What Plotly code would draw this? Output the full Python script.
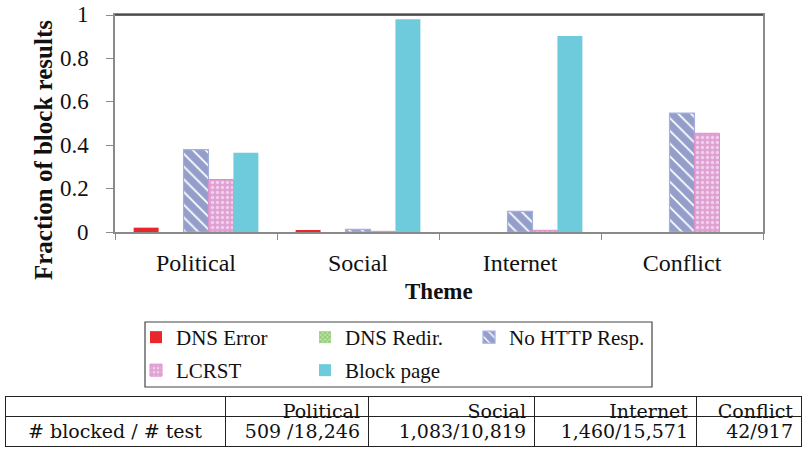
import plotly.graph_objects as go

# Themes on the category axis
themes = ["Political", "Social", "Internet", "Conflict"]

# Fraction of block results per theme, one list per result type
dns_error = [0.02, 0.006, 0.0, 0.0]
dns_redir = [0.0, 0.0, 0.0, 0.0]
no_http_resp = [0.38, 0.012, 0.095, 0.548]
lcrst = [0.242, 0.003, 0.008, 0.455]
block_page = [0.365, 0.98, 0.903, 0.0]

# Value-axis ticks
y_ticks = [0, 0.2, 0.4, 0.6, 0.8, 1]
y_tick_labels = ["0", "0.2", "0.4", "0.6", "0.8", "1"]

# Summary table below the chart
table_header = ["", "Political", "Social", "Internet", "Conflict"]
table_row = ["# blocked / # test", "509 /18,246", "1,083/10,819", "1,460/15,571", "42/917"]

W, H = 802, 452
SERIF = "Liberation Serif"
AXIS_GREY = "#8a8a8a"


def px_x(x):
    return x / W


def px_y(y):
    return 1 - y / H


fig = go.Figure()

series = [
    dict(name="DNS Error", y=dns_error, legend="legend",
         marker=dict(color="#e8262b", line=dict(width=0))),
    dict(name="DNS Redir.", y=dns_redir, legend="legend",
         marker=dict(color="#7cc257",
                     pattern=dict(shape="x", fgcolor="#5aa838", bgcolor="#bfe3a8", size=4, solidity=0.5),
                     line=dict(width=0))),
    dict(name="No HTTP Resp.", y=no_http_resp, legend="legend3",
         marker=dict(color="#2a3d96",
                     pattern=dict(shape="\\", fgcolor="#2a3d96", bgcolor="#ffffff", size=9, solidity=0.8),
                     line=dict(color="#a4b0e0", width=1.2))),
    dict(name="LCRST", y=lcrst, legend="legend2",
         marker=dict(color="#dc98cf",
                     pattern=dict(shape=".", fgcolor="#ffffff", bgcolor="#e0a0d4", size=5, solidity=0.35),
                     line=dict(color="#d890c8", width=1))),
    dict(name="Block page", y=block_page, legend="legend2",
         marker=dict(color="#6ecbdc", line=dict(width=0))),
]

for s in series:
    fig.add_trace(go.Bar(x=themes, y=s["y"], name=s["name"], legend=s["legend"],
                         marker=s["marker"], xaxis="x", yaxis="y"))

# Summary table
fig.add_trace(go.Table(
    domain=dict(x=[px_x(5), px_x(801)], y=[px_y(451), px_y(396)]),
    columnwidth=[220, 143, 166, 162, 105],
    header=dict(values=table_header, align=["center", "right", "right", "right", "right"],
                fill_color="white", line=dict(color="#222222", width=1),
                font=dict(family="DejaVu Serif", size=19, color="#111111"), height=20),
    cells=dict(values=[[v] for v in table_row], align=["center", "right", "right", "right", "right"],
               fill_color="white", line=dict(color="#222222", width=1),
               font=dict(family="DejaVu Serif", size=19, color="#111111"), height=30),
))

legend_common = dict(orientation="h", xanchor="left", yanchor="top",
                     font=dict(family=SERIF, size=21, color="#111111"),
                     bgcolor="rgba(0,0,0,0)", borderwidth=0,
                     traceorder="normal", itemclick=False, itemdoubleclick=False)

# Value-axis labels, placed on the y scale and right-aligned left of the tick marks
y_label_annotations = [
    dict(text=lab, x=px_x(91), y=val, xref="paper", yref="y",
         xanchor="right", yanchor="middle", showarrow=False,
         font=dict(family=SERIF, size=23, color="#111111"))
    for val, lab in zip(y_ticks, y_tick_labels)
]

fig.update_layout(
    width=W, height=H,
    margin=dict(l=0, r=0, t=0, b=0),
    paper_bgcolor="white", plot_bgcolor="white",
    font=dict(family=SERIF, size=22, color="#111111"),
    barmode="group", bargap=0.23, bargroupgap=0,
    showlegend=True,
    legend=dict(x=px_x(136), y=px_y(317), entrywidth=124, **legend_common),
    legend2=dict(x=px_x(136), y=px_y(350), entrywidth=124, **legend_common),
    legend3=dict(x=px_x(469), y=px_y(317), **legend_common),
    xaxis=dict(domain=[px_x(115), px_x(763)], type="category", automargin=False,
               showline=True, linecolor=AXIS_GREY, linewidth=1.5, mirror=True,
               ticks="outside", tickson="boundaries", ticklen=6, tickcolor=AXIS_GREY,
               ticklabelstandoff=8,
               tickfont=dict(family=SERIF, size=24, color="#111111"),
               showgrid=False, zeroline=False, fixedrange=True),
    yaxis=dict(domain=[px_y(232), px_y(15)], range=[0, 1], automargin=False,
               tickmode="array", tickvals=y_ticks, showticklabels=False,
               showline=True, linecolor=AXIS_GREY, linewidth=1.5, mirror=True,
               ticks="outside", ticklen=7, tickcolor=AXIS_GREY,
               showgrid=False, zeroline=False, fixedrange=True),
    shapes=[
        # legend frame
        dict(type="rect", xref="paper", yref="paper",
             x0=px_x(145), x1=px_x(652), y0=px_y(387), y1=px_y(322),
             line=dict(color="#444444", width=1.2), fillcolor="rgba(0,0,0,0)"),
        # darker top edge of the plot frame
        dict(type="line", xref="paper", yref="paper",
             x0=px_x(115), x1=px_x(763), y0=px_y(15), y1=px_y(15),
             line=dict(color="#333333", width=1.5)),
    ],
    annotations=y_label_annotations + [
        dict(text="<b>Fraction of block results</b>", textangle=-90,
             x=px_x(44), y=px_y(150), xref="paper", yref="paper",
             xanchor="center", yanchor="middle", showarrow=False,
             font=dict(family=SERIF, size=25, color="#111111")),
        dict(text="<b>Theme</b>",
             x=px_x(439), y=px_y(291), xref="paper", yref="paper",
             xanchor="center", yanchor="middle", showarrow=False,
             font=dict(family=SERIF, size=23, color="#111111")),
    ],
)

fig.write_html("out.html")
